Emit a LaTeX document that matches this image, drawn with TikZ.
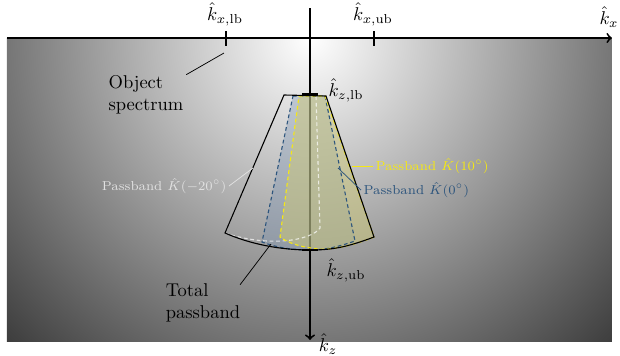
\documentclass[tikz,border=0pt]{standalone}
\usetikzlibrary{positioning}

\definecolor{bandblue}{RGB}{45,85,125}
\definecolor{bandyellow}{RGB}{245,232,20}
\definecolor{bandgray}{RGB}{225,225,225}
\definecolor{fillblue}{RGB}{120,145,178}
\definecolor{fillyellow}{RGB}{205,200,120}

\begin{document}
\begin{tikzpicture}[x=0.54pt, y=-0.54pt, thick]
  \useasboundingbox (0,0) rectangle (620,356);

  % ---------------- object spectrum (background) ----------------
  \begin{scope}
    \clip (7,38) rectangle (612,341);
    \shade[inner color=white, outer color=black!78] (310,38) circle (440);
  \end{scope}

  % kz axis first, the passbands are laid over it
  \coordinate (ztop) at (310,8);
  \coordinate (zend) at (310,340);
  \draw[line width=1pt, ->] (ztop) -- (zend);

  % ---------------- passbands ----------------
  % fills: 0 deg and 10 deg
  \fill[fillblue, opacity=0.35] (293,96) -- (325,96) -- (355,241)
    .. controls (335,248) and (322,250) .. (310,250)
    .. controls (290,250) and (275,247) .. (262,242) -- cycle;
  \fill[fillyellow, opacity=0.5] (299,96) -- (325,96) -- (374,237)
    .. controls (352,246) and (332,250) .. (318,249)
    .. controls (300,247) and (288,243) .. (280,237) -- cycle;
  % -20 deg, outline only
  \draw[white, opacity=0.7, line width=0.6pt, dash pattern=on 2pt off 1.5pt]
    (284,95) -- (316,96) -- (320,228)
    .. controls (312,240) and (270,248) .. (225,233) -- cycle;
  % 0 deg
  \draw[bandblue, line width=0.6pt, dash pattern=on 2pt off 1.5pt]
    (293,96) -- (325,96) -- (355,241)
    .. controls (335,248) and (322,250) .. (310,250)
    .. controls (290,250) and (275,247) .. (262,242) -- cycle;
  % 10 deg
  \draw[bandyellow, line width=0.6pt, dash pattern=on 2pt off 1.5pt]
    (299,96) -- (325,96) -- (374,237)
    .. controls (352,246) and (332,250) .. (318,249)
    .. controls (300,247) and (288,243) .. (280,237) -- cycle;
  % total passband
  \draw[line width=0.6pt] (284,95) -- (326,96) -- (374,237)
    .. controls (345,248) and (330,250) .. (310,250)
    .. controls (280,250) and (250,244) .. (225,233) -- cycle;

  % ---------------- axes and bounds ----------------
  \coordinate (xstart) at (7,38);
  \coordinate (xend) at (612,38);
  \draw[line width=1pt, ->] (xstart) -- (xend);
  \node (kx) at (609,17) {$\hat{k}_x$};
  \node[inner sep=1pt] (kz) at (328,344) {$\hat{k}_z$};

  \draw[line width=1pt] (226,31) -- (226,46);
  \draw[line width=1pt] (374,31) -- (374,46);
  \node (kxlb) at (225,14) {$\hat{k}_{x,\mathrm{lb}}$};
  \node (kxub) at (373,14) {$\hat{k}_{x,\mathrm{ub}}$};

  \draw[line width=1pt] (302,94) -- (318,94);
  \draw[line width=1pt] (302,250) -- (318,250);
  \node (kzlb) at (346,90) {$\hat{k}_{z,\mathrm{lb}}$};
  \node (kzub) at (346,270) {$\hat{k}_{z,\mathrm{ub}}$};

  % ---------------- labels ----------------
  \node[align=left] (objspec) at (146,95) {Object\\spectrum};
  \coordinate (objtip) at (224,53);
  \draw[thin] ([shift={(-4,6)}]objspec.north east) -- (objtip);

  \node[align=left] (totalpb) at (203,303) {Total\\passband};
  \coordinate (totaltip) at (271,244);
  \draw[thin] ([shift={(-7,8)}]totalpb.north east) -- (totaltip);

  \node[anchor=west, bandyellow, font=\scriptsize, inner sep=1pt] (pbten) at (373,166)
    {Passband $\hat{K}(10^{\circ})$};
  \coordinate (tentip) at (352,166);
  \draw[bandyellow, thin] (pbten.west) -- (tentip);

  \node[anchor=west, bandblue, font=\scriptsize, inner sep=1pt] (pbzero) at (361,190)
    {Passband $\hat{K}(0^{\circ})$};
  \coordinate (zerotip) at (338,168);
  \draw[bandblue, thin] (pbzero.west) -- (zerotip);

  \node[anchor=east, bandgray, font=\scriptsize, inner sep=1pt] (pbmtw) at (229,186)
    {Passband $\hat{K}(-20^{\circ})$};
  \coordinate (mtwtip) at (253,168);
  \draw[bandgray, thin] (pbmtw.east) -- (mtwtip);

\end{tikzpicture}
\end{document}
